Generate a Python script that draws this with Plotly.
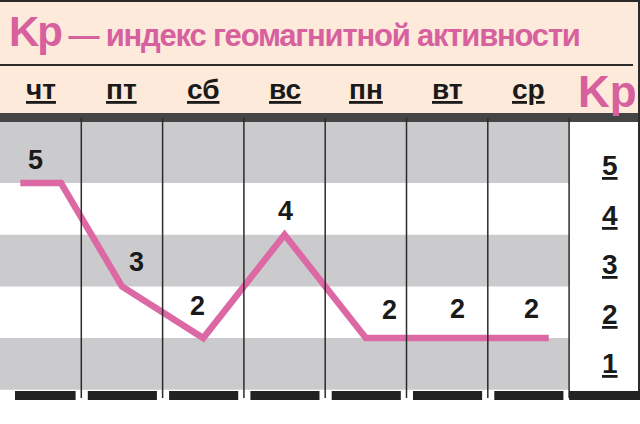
import plotly.graph_objects as go

# data
days = ["чт", "пт", "сб", "вс", "пн", "вт", "ср"]
kp = [5, 3, 2, 4, 2, 2, 2]
kp_levels = [1, 2, 3, 4, 5]
title_main = "Kp"
title_rest = "— индекс геомагнитной активности"

W, H = 640, 424
COL = 81.3        # px per day column
PINK = "#d7609e"
LINE_PINK = "#dc68a4"
PEACH = "#fdeadb"
GREY = "#cbcbcd"
DARK = "#2b2b2b"
SANS = "Liberation Sans, Arial, sans-serif"

# label nudges (px) for the value labels
lab_dx = [-5, 15, -6, 1, 24, 10, 3]
lab_dy = [23, 24, 32, 24, 28, 29, 29]


def vx(px):
    return px / COL


def vy(px):
    return 5 - (px - 183) / 51.7


def pxy(px):
    return 1 - px / H


n = len(days)
shapes = []
# header
shapes.append(dict(type="rect", xref="paper", yref="paper", x0=0, x1=1,
                   y0=pxy(113), y1=pxy(2), fillcolor=PEACH, line_width=0, layer="below"))
shapes.append(dict(type="line", xref="paper", yref="paper", x0=0, x1=1,
                   y0=pxy(1), y1=pxy(1), line=dict(color=DARK, width=2)))
shapes.append(dict(type="line", xref="paper", yref="paper", x0=0, x1=633 / W,
                   y0=pxy(65), y1=pxy(65), line=dict(color=DARK, width=2)))
# grey bands
for k in kp_levels:
    if k % 2 == 1:
        top = vy(122) if k == max(kp_levels) else k + 1
        shapes.append(dict(type="rect", xref="x", yref="y", x0=0, x1=n, y0=k, y1=top,
                           fillcolor=GREY, line_width=0, layer="below"))
# dark bar under header
shapes.append(dict(type="rect", xref="paper", yref="paper", x0=0, x1=1,
                   y0=pxy(122), y1=pxy(113), fillcolor="#454545", line_width=0))
# column separators
for i in range(1, n + 1):
    shapes.append(dict(type="line", xref="x", yref="y", x0=i, x1=i,
                       y0=vy(398), y1=vy(118), line=dict(color=DARK, width=1.5)))
shapes.append(dict(type="line", xref="paper", yref="paper", x0=639 / W, x1=639 / W,
                   y0=pxy(400), y1=pxy(0), line=dict(color=DARK, width=2)))
# bottom dashes
for i in range(n):
    x0 = max(i + 0.08, vx(15))
    shapes.append(dict(type="rect", xref="x", yref="y", x0=x0, x1=i + 0.93,
                       y0=vy(400), y1=vy(391), fillcolor="#222222", line_width=0))
shapes.append(dict(type="rect", xref="x", yref="paper", x0=n, x1=vx(W),
                   y0=pxy(400), y1=pxy(391), fillcolor="#222222", line_width=0))

# the Kp line: first day drawn as a short flat stub
cx = [i + 0.5 for i in range(n)]
line_x = [cx[0] - 0.25, cx[0] + 0.25] + cx[1:] + [cx[-1] + 0.25]
line_y = [kp[0], kp[0]] + kp[1:] + [kp[-1]]

fig = go.Figure()
fig.add_trace(go.Scatter(x=line_x, y=line_y, mode="lines",
                         line=dict(color=LINE_PINK, width=6.5), hoverinfo="skip"))

ann = []
ann.append(dict(xref="paper", yref="paper", x=7 / W, y=pxy(32), xanchor="left", yanchor="middle",
                text=("<b><span style='font-size:42px;letter-spacing:-2px'>%s</span>"
                      "<span style='letter-spacing:-1.2px'> %s</span></b>") % (title_main, title_rest),
                showarrow=False, font=dict(family=SANS, size=31, color=PINK)))
for i, d in enumerate(days):
    ann.append(dict(x=cx[i], y=vy(89), xref="x", yref="y", text="<b>%s</b>" % d, showarrow=False,
                    font=dict(family=SANS, size=28, color="#1a1a1a", lineposition="under")))
ann.append(dict(x=vx(607), y=vy(91), xref="x", yref="y", text="<b>%s</b>" % title_main,
                showarrow=False, font=dict(family=SANS, size=44, color=PINK)))
for k in kp_levels:
    ann.append(dict(x=vx(610), y=k + 0.5 - 0.042 * (k - 1), xref="x", yref="y",
                    text="<b>%d</b>" % k, showarrow=False,
                    font=dict(family=SANS, size=28, color="#1a1a1a", lineposition="under")))
for i, v in enumerate(kp):
    ann.append(dict(x=cx[i], y=v, xref="x", yref="y", text="<b>%d</b>" % v, showarrow=False,
                    xshift=lab_dx[i], yshift=lab_dy[i],
                    font=dict(family=SANS, size=27, color="#1a1a1a")))

fig.update_layout(
    width=W, height=H,
    margin=dict(l=0, r=0, t=0, b=0),
    paper_bgcolor="white", plot_bgcolor="white",
    showlegend=False,
    xaxis=dict(range=[0, vx(W)], visible=False, fixedrange=True),
    yaxis=dict(range=[vy(H), vy(0)], visible=False, fixedrange=True),
    shapes=shapes, annotations=ann,
)

fig.write_html("out.html", config={"displayModeBar": False},
               post_script="document.body.style.margin='0px';")
